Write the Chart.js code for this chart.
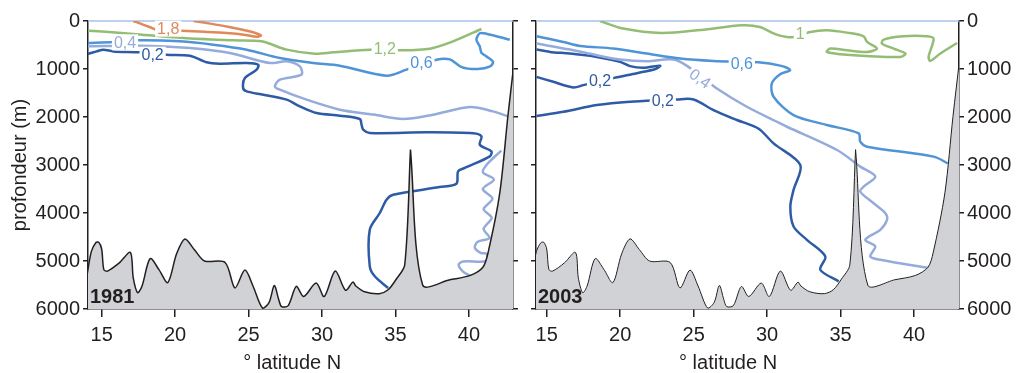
<!DOCTYPE html>
<html lang="fr">
<head>
<meta charset="UTF-8">
<title>Sections profondeur / latitude 1981 - 2003</title>
<script src="https://cdn.jsdelivr.net/npm/chart.js"></script>
<style>
  body { margin: 0; background: #fff; }
  #wrap { position: relative; width: 1025px; height: 373px; }
  canvas { position: absolute; top: 0; }
  #c1981 { left: 0; }
  #c2003 { left: 525px; }
</style>
</head>
<body>
<div id="wrap">
  <canvas id="c1981" width="525" height="373"></canvas>
  <canvas id="c2003" width="500" height="373"></canvas>
</div>
<script>
// axes
const latTicks = [15, 20, 25, 30, 35, 40];
const depthTicks = [0, 1000, 2000, 3000, 4000, 5000, 6000];

// fond marin (commun aux deux sections)
const bathyLat   = [14.0, 14.3, 14.6, 14.8, 15.0, 15.15, 15.4, 16.2, 16.95, 17.15, 17.45, 17.75, 18.3, 18.9, 19.5, 20.1, 20.67, 21.3, 22.0, 23.4, 24.07, 24.75, 25.3, 25.95, 26.4, 26.75, 27.05, 27.25, 27.7, 28.25, 28.75, 29.6, 30.15, 30.9, 31.6, 32.1, 32.3, 32.9, 33.9, 34.5, 35.05, 35.63, 36.02, 36.02, 36.85, 38.7, 40.1, 40.95, 41.3, 42.1, 42.65, 43.1];
const bathyDepth = [5300, 4800, 4620, 4610, 4750, 5180, 5210, 5040, 4820, 5350, 5660, 5520, 4950, 5180, 5450, 4850, 4540, 4760, 5000, 5030, 5560, 5190, 5520, 5980, 5860, 5510, 5800, 5950, 5930, 5530, 5740, 5460, 5740, 5210, 5610, 5440, 5520, 5640, 5680, 5600, 5380, 5080, 2680, 2680, 5500, 5390, 5300, 5130, 4830, 3580, 1990, 800];

// 1981
const a18Lat = [17.15, 17.6, 18.3, 18.75, 20.4, 22.0, 23.5, 24.8, 25.55, 25.85, 25.6, 24.9, 23.6, 22.4, 21.25];
const a18Dep = [0, 50, 130, 180, 205, 225, 250, 290, 330, 300, 265, 205, 120, 55, 0];
const a12Lat = [14.0, 15.5, 17.15, 20.56, 23.96, 25.88, 27.59, 29.51, 30.76, 33.26, 35.29, 37.34, 38.92, 40.85];
const a12Dep = [200, 230, 270, 354, 403, 424, 597, 681, 653, 597, 611, 576, 424, 167];
const a06Lat = [14.0, 15.79, 17.49, 20.33, 22.59, 24.87, 27.13, 29.4, 31.21, 34.39, 35.75, 37.79, 38.7, 39.5, 40.6, 41.45, 41.64, 41.2, 40.85, 40.74, 40.51, 40.74, 41.19, 42.78];
const a06Dep = [458, 438, 403, 424, 493, 597, 771, 875, 931, 1139, 1014, 806, 800, 960, 1000, 945, 850, 740, 660, 530, 390, 255, 264, 389];
const a04Lat = [14.0, 17.38, 21.01, 23.73, 26.45, 27.59, 28.49, 28.6, 27.13, 26.79, 27.13, 28.95, 31.21, 33.5, 35.52, 37.56, 40.06, 41.64, 42.7];
const a04Dep = [528, 514, 563, 667, 875, 841, 945, 1118, 1223, 1362, 1431, 1639, 1848, 1950, 2042, 1952, 1792, 1883, 1990];
const a04bLat = [42.2, 41.25, 40.95, 41.7, 40.95, 41.6, 41.0, 41.55, 41.0, 41.4, 40.6, 40.4, 40.8, 41.2, 41.2, 39.6, 39.3, 39.6, 40.1];
const a04bDep = [2700, 2980, 3150, 3300, 3500, 3700, 3920, 4100, 4330, 4520, 4600, 4720, 4830, 4850, 5000, 5010, 5080, 5220, 5310];
const a02Lat = [14.0, 14.66, 15.11, 15.79, 17.61, 19.42, 21.01, 22.14, 23.05, 24.87, 25.66, 25.55, 24.75, 24.63, 24.87, 26.0, 27.59, 28.49, 29.63, 31.21, 32.57, 32.69, 32.8, 33.25, 37.11, 40.28, 40.85, 40.74, 41.53, 41.42, 39.72, 39.26, 39.15, 38.0, 34.84, 34.39, 33.93, 33.25, 33.25, 33.59, 34.5];
const a02Dep = [690, 633, 597, 633, 653, 702, 723, 861, 889, 875, 910, 1014, 1188, 1396, 1466, 1535, 1639, 1778, 1917, 1973, 2042, 2160, 2264, 2333, 2320, 2340, 2404, 2577, 2716, 2820, 3062, 3133, 3389, 3460, 3618, 3722, 4000, 4347, 5111, 5319, 5562];

// 2003
const b10Lat = [18.63, 20.2, 22.8, 25.5, 28.3, 29.5, 30.6, 31.35, 31.8, 32.94, 34.07, 35.43, 36.57, 36.8, 37.48, 36.8, 35.43, 34.3, 34.07, 34.98, 37.02, 39.07, 39.41, 38.61, 37.82, 37.93, 39.29, 40.88, 41.33, 40.99, 41.11, 41.79, 42.93];
const b10Dep = [0, 158, 250, 186, 89, 125, 280, 333, 333, 228, 193, 242, 318, 436, 574, 644, 609, 574, 644, 692, 734, 748, 678, 574, 470, 387, 318, 318, 366, 748, 831, 678, 457];
const b06Lat = [14.3, 16.13, 17.27, 19.54, 21.81, 24.08, 26.35, 29.4, 30.89, 31.57, 30.89, 30.32, 30.44, 31.8, 34.07, 36.23, 36.34, 36.8, 41.33, 42.3];
const b06Dep = [318, 436, 519, 574, 677, 781, 831, 860, 930, 1024, 1108, 1301, 1579, 1960, 2167, 2340, 2514, 2618, 2826, 2965];
const b04Lat = [14.3, 16.59, 18.41, 19.99, 21.81, 23.86, 26.58, 28.62, 30.89, 31.35, 34.76, 36.34, 37.36, 36.57, 36.34, 37.25, 38.05, 38.16, 37.7, 36.68, 37.36, 37.02, 37.7, 41.0];
const b04Dep = [470, 595, 713, 802, 837, 817, 1405, 1787, 2132, 2203, 2688, 3034, 3242, 3450, 3554, 3797, 4004, 4143, 4351, 4559, 4697, 4905, 4974, 5148];
const b02aLat = [14.3, 15.22, 16.59, 18.41, 19.99, 20.67, 21.58, 22.72, 22.4, 21.13, 19.54, 17.49, 16.81, 15.45, 14.3];
const b02aDep = [595, 644, 678, 748, 852, 940, 975, 930, 1000, 1087, 1190, 1336, 1384, 1267, 1163];
const b02bLat = [14.3, 16.13, 18.41, 20.67, 23.86, 24.99, 26.35, 27.94, 29.4, 30.44, 32.26, 31.8, 31.58, 31.8, 32.71, 33.96, 33.62, 34.87];
const b02bDep = [1980, 1891, 1752, 1682, 1634, 1634, 1856, 2063, 2240, 2550, 3000, 3519, 3866, 4281, 4559, 4905, 5182, 5424];

// étiquettes des isolignes (texte, latitude, profondeur)
const labels1981 = [
  ['1,8', 19.53, 160, 'orange'], ['1,2', 34.27, 583, 'green'], ['0,6', 36.77, 875, 'mid'],
  ['0,4', 16.59, 445, 'light'], ['0,2', 18.47, 702, 'dark']
];
const labels2003 = [
  ['1', 32.25, 262, 'green'], ['0,6', 28.28, 886, 'mid'], ['0,4', 25.44, 1197, 'light', 35],
  ['0,2', 18.63, 1247, 'dark'], ['0,2', 22.9, 1648, 'dark']
];

const colors = {
  orange: '#e0895b', green: '#93bd74', mid: '#4f94d6', light: '#94abdb', dark: '#2d5ba5',
  zero: '#a9c3ea', ground: '#d1d2d6', ink: '#231f20'
};
const FONT = '"Liberation Sans", Arial, Helvetica, sans-serif';
Chart.defaults.font.family = FONT;
Chart.defaults.color = colors.ink;

const pts = (lats, deps) => lats.map((x, i) => ({x: x, y: deps[i]}));

function contour(lats, deps, color) {
  return {data: pts(lats, deps), borderColor: colors[color], borderWidth: 2.5,
    pointRadius: 0, tension: 0.3, fill: false};
}

function ground(width) {
  return {data: pts(bathyLat, bathyDepth), borderColor: colors.ink, borderWidth: width,
    backgroundColor: colors.ground, fill: {value: 6000}, pointRadius: 0, tension: 0.3};
}

function overlay(labels, year) {
  return {
    id: 'overlay' + year,
    beforeDatasetsDraw(chart) {
      const {ctx, chartArea: a, scales} = chart;
      const y0 = scales.y.getPixelForValue(0);
      ctx.save();
      ctx.strokeStyle = colors.zero;
      ctx.lineWidth = 1.5;
      ctx.beginPath();
      ctx.moveTo(a.left, y0);
      ctx.lineTo(a.right, y0);
      ctx.stroke();
      ctx.restore();
    },
    afterDatasetsDraw(chart) {
      const {ctx, chartArea: a, scales} = chart;
      ctx.save();
      ctx.font = '16px ' + FONT;
      ctx.textAlign = 'center';
      ctx.textBaseline = 'middle';
      labels.forEach(l => {
        const px = scales.x.getPixelForValue(l[1]);
        const py = scales.y.getPixelForValue(l[2]);
        ctx.save();
        ctx.translate(px, py);
        ctx.rotate((l[4] || 0) * Math.PI / 180);
        const w = ctx.measureText(l[0]).width;
        ctx.fillStyle = '#fff';
        ctx.fillRect(-w / 2 - 2, -8, w + 4, 16);
        ctx.fillStyle = colors[l[3]];
        ctx.fillText(l[0], 0, 1);
        ctx.restore();
      });
      ctx.font = 'bold 20px ' + FONT;
      ctx.textAlign = 'left';
      ctx.textBaseline = 'alphabetic';
      ctx.fillStyle = colors.ink;
      ctx.fillText(year, a.left + 2, a.bottom - 6);
      ctx.restore();
    }
  };
}

// le titre n'est pas centré sous le graphique dans l'original : espaces insécables à droite
function xScale(min, max, shift) {
  return {
    type: 'linear', min: min, max: max,
    afterBuildTicks: s => { s.ticks = latTicks.map(v => ({value: v})); },
    ticks: {callback: v => String(v), font: {size: 20}, color: colors.ink, padding: 6, maxRotation: 0},
    grid: {drawOnChartArea: false, drawTicks: true, tickLength: 8, color: colors.ink, lineWidth: 1.5},
    border: {display: true, color: colors.ink, width: 1.5},
    title: {display: true, text: '° latitude N' + '\u00a0'.repeat(shift), font: {size: 20, lineHeight: 1},
      color: colors.ink, padding: {top: 0, bottom: 0}},
    afterFit: s => { s.height = 64; }
  };
}

function yScale(position, width, showLabels, title) {
  return {
    type: 'linear', axis: 'y', position: position, reverse: true, min: 0, max: 6000,
    afterBuildTicks: s => { s.ticks = depthTicks.map(v => ({value: v})); },
    ticks: {callback: v => showLabels ? String(v) : '', font: {size: 20}, color: colors.ink, padding: 3},
    grid: {drawOnChartArea: false, drawTicks: true, tickLength: 5, color: colors.ink, lineWidth: 1.5},
    border: {display: true, color: colors.ink, width: 1.5},
    title: title ? {display: true, text: title, font: {size: 20}, color: colors.ink, padding: {top: 8, bottom: 0}} : {display: false},
    afterFit: s => { s.width = width; }
  };
}

function baseOptions(scales) {
  return {
    responsive: false, maintainAspectRatio: false, animation: false, devicePixelRatio: 1,
    layout: {padding: {top: 21, left: 0, right: 0, bottom: 0}},
    plugins: {legend: {display: false}, tooltip: {enabled: false}},
    scales: scales
  };
}

new Chart(document.getElementById('c1981'), {
  type: 'line',
  data: {datasets: [
    ground(1.5),
    contour(a18Lat, a18Dep, 'orange'),
    contour(a12Lat, a12Dep, 'green'),
    contour(a06Lat, a06Dep, 'mid'),
    contour(a04Lat, a04Dep, 'light'),
    contour(a04bLat, a04bDep, 'light'),
    contour(a02Lat, a02Dep, 'dark')
  ]},
  options: baseOptions({
    x: xScale(14.07, 43.0, 3),
    y: yScale('left', 88, true, 'profondeur (m)'),
    yR: yScale('right', 12, false, null)
  }),
  plugins: [overlay(labels1981, '1981')]
});

new Chart(document.getElementById('c2003'), {
  type: 'line',
  data: {datasets: [
    ground(1),
    contour(b10Lat, b10Dep, 'green'),
    contour(b06Lat, b06Dep, 'mid'),
    contour(b04Lat, b04Dep, 'light'),
    contour(b02aLat, b02aDep, 'dark'),
    contour(b02bLat, b02bDep, 'dark')
  ]},
  options: baseOptions({
    x: xScale(14.27, 43.06, 7),
    yL: yScale('left', 11, false, null),
    y: yScale('right', 66, true, null)
  }),
  plugins: [overlay(labels2003, '2003')]
});
</script>
</body>
</html>
